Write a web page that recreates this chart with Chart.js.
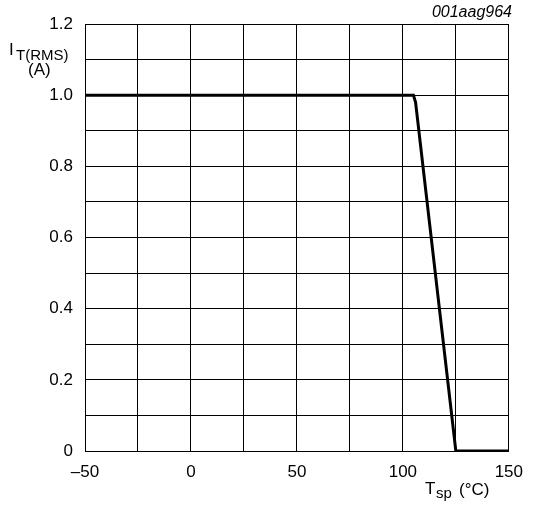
<!DOCTYPE html>
<html>
<head>
    <meta charset="utf-8">
    <title>I_T(RMS) vs T_sp</title>
    <script src="https://cdn.jsdelivr.net/npm/chart.js@4.4.0/dist/chart.umd.min.js"></script>
    <style>
        body { margin: 0; background: #fff; }
        #wrap { width: 534px; height: 507px; }
    </style>
</head>
<body>
    <div id="wrap"><canvas id="c" width="534" height="507"></canvas></div>
    <script>
        // data
        const tsp = [-50, 105, 106, 125, 150];
        const itRms = [1.0, 1.0, 0.98, 0.0, 0.0];
        const xTicks = [-50, 0, 50, 100, 150];
        const yTicks = [0, 0.2, 0.4, 0.6, 0.8, 1.0, 1.2];

        const FONT = '"Liberation Sans", Arial, sans-serif';

        // axis titles and the code in the corner
        const titles = {
            id: 'titles',
            afterDraw(chart) {
                const ctx = chart.ctx;
                ctx.save();
                ctx.fillStyle = '#000';
                ctx.textBaseline = 'alphabetic';

                ctx.font = 'italic 16px ' + FONT;
                ctx.textAlign = 'right';
                ctx.fillText('001aag964', 512, 17);

                ctx.textAlign = 'left';
                ctx.font = '17px ' + FONT;
                ctx.fillText('I', 9, 55);
                ctx.font = '15px ' + FONT;
                ctx.fillText('T(RMS)', 16, 60);
                ctx.font = '17px ' + FONT;
                ctx.fillText('(A)', 28, 75);

                ctx.fillText('T', 425, 494);
                ctx.font = '15px ' + FONT;
                ctx.fillText('sp', 436, 498);
                ctx.font = '17px ' + FONT;
                ctx.fillText('(\u00B0C)', 459, 495);
                ctx.restore();
            }
        };

        new Chart(document.getElementById('c'), {
            type: 'line',
            data: {
                datasets: [{
                    data: tsp.map((x, i) => ({ x: x, y: itRms[i] })),
                    borderColor: '#000',
                    borderWidth: 3,
                    pointRadius: 0,
                    tension: 0,
                    fill: false
                }]
            },
            options: {
                responsive: false,
                animation: false,
                layout: { padding: { top: 24, right: 23, left: 0, bottom: 0 } },
                plugins: { legend: { display: false }, tooltip: { enabled: false } },
                scales: {
                    x: {
                        type: 'linear',
                        min: -50, max: 150,
                        ticks: {
                            stepSize: 25,
                            padding: 11,
                            color: '#000',
                            font: { family: FONT, size: 17 },
                            maxRotation: 0,
                            autoSkip: false,
                            callback: v => xTicks.includes(v) ? String(v).replace('-', '\u2013') : ''
                        },
                        grid: { color: '#000', lineWidth: 1, drawTicks: false },
                        border: { color: '#000', width: 1 },
                        afterFit: s => { s.height = 56; }
                    },
                    y: {
                        min: 0, max: 1.2,
                        ticks: {
                            stepSize: 0.1,
                            padding: 12,
                            color: '#000',
                            font: { family: FONT, size: 17 },
                            autoSkip: false,
                            callback: v => {
                                const r = Math.round(v * 10) / 10;
                                if (!yTicks.some(t => Math.abs(t - r) < 1e-6)) return '';
                                return r === 0 ? '0' : r.toFixed(1);
                            }
                        },
                        grid: { color: '#000', lineWidth: 1, drawTicks: false },
                        border: { color: '#000', width: 1 },
                        afterFit: s => { s.width = 85; }
                    }
                }
            },
            plugins: [titles]
        });
    </script>
</body>
</html>
